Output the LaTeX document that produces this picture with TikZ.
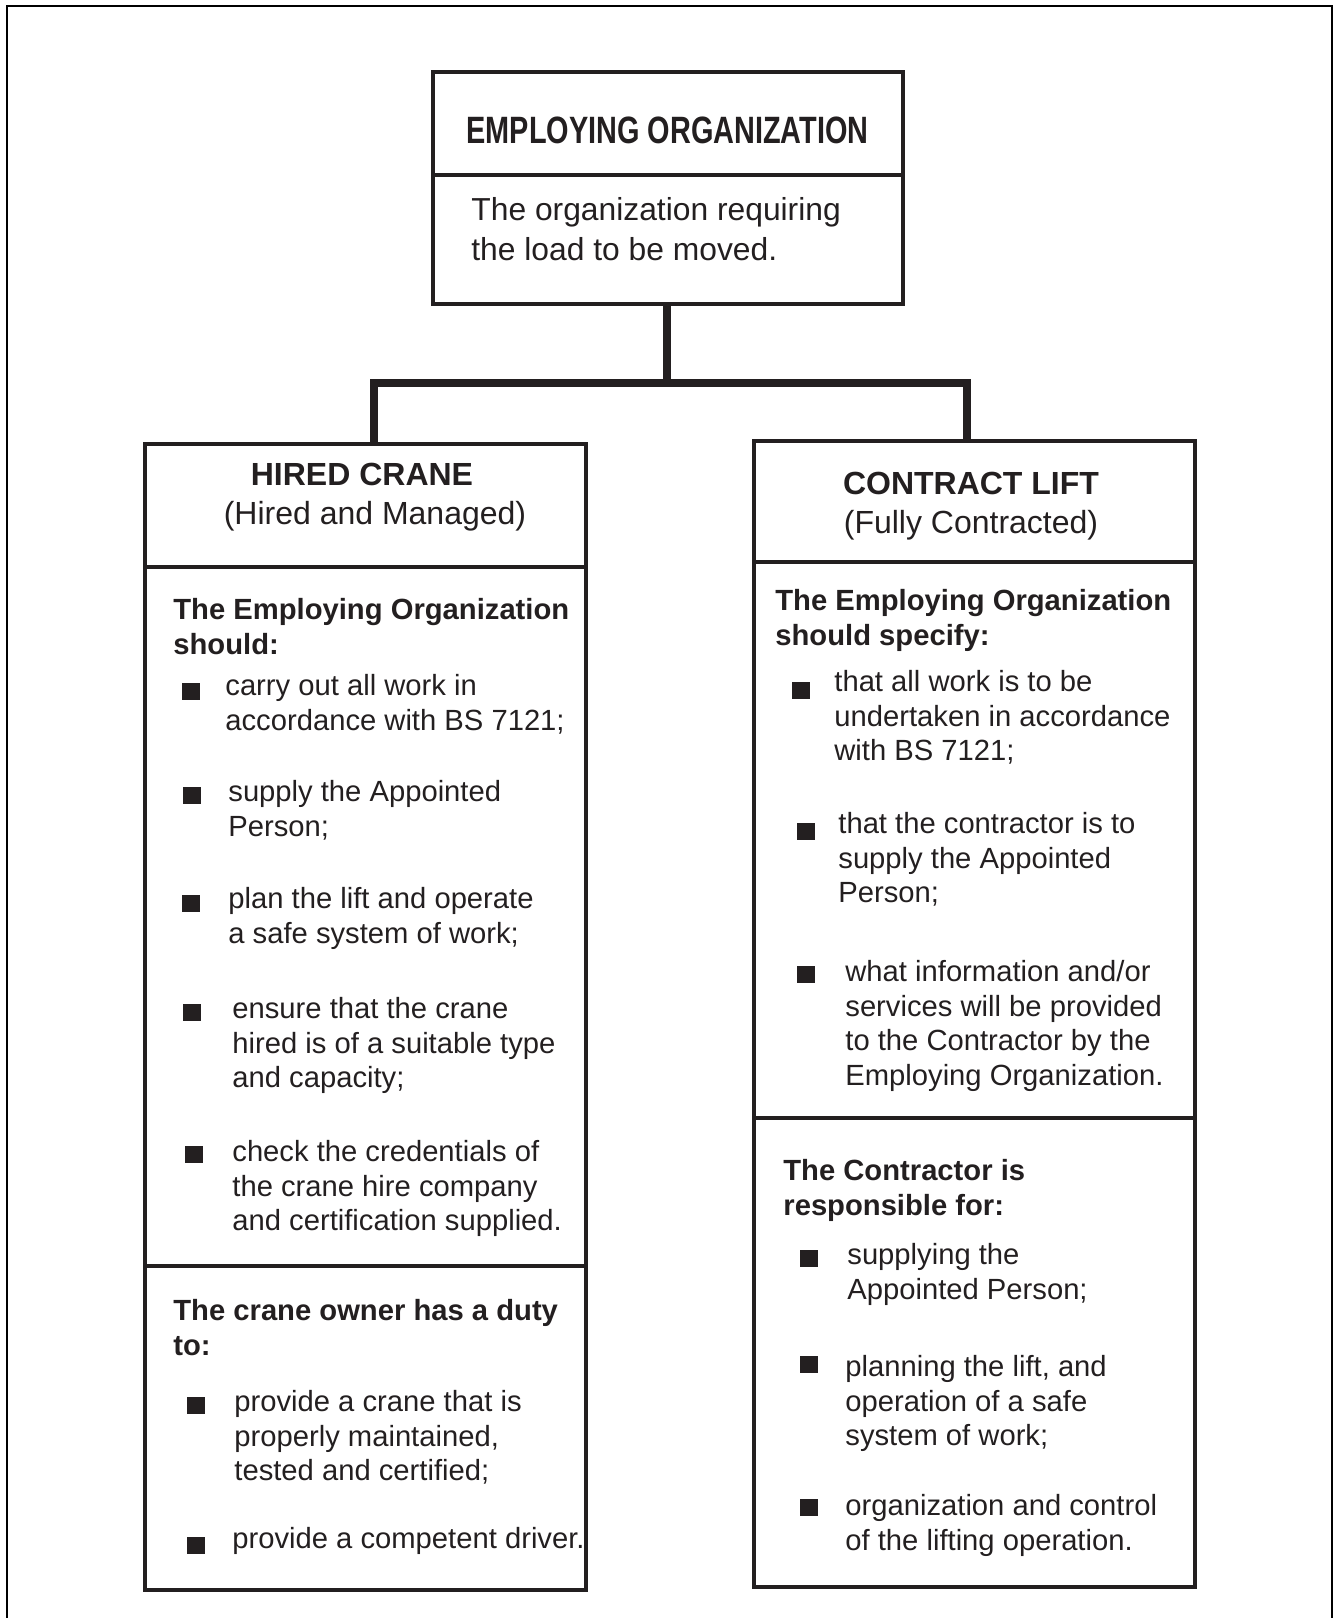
\documentclass[tikz,border=0pt]{standalone}
\usepackage{fontspec}
\setmainfont{Liberation Sans}
\usepackage{graphicx}
\definecolor{ink}{HTML}{231F20}
\begin{document}
\begin{tikzpicture}[x=0.5pt,y=-0.5pt,
  box/.style={draw=ink, line width=1.75pt, rectangle, inner sep=0pt},
  divline/.style={draw=ink, line width=1.7pt},
  conn/.style={draw=ink, line width=3.65pt},
  frameline/.style={draw=black, line width=1pt},
  body/.style={anchor=north west, inner sep=0pt, align=left, text=ink, font=\fontsize{14.6pt}{17.3pt}\selectfont, yshift=7pt},
  bodyb/.style={body, font=\fontsize{14.6pt}{17.3pt}\selectfont\bfseries},
  topbody/.style={anchor=north west, inner sep=0pt, align=left, text=ink, font=\fontsize{15.9pt}{19.6pt}\selectfont, yshift=8pt},
  head/.style={anchor=center, inner sep=0pt, text=ink, font=\fontsize{16pt}{19pt}\selectfont},
  headb/.style={head, font=\fontsize{16pt}{19pt}\selectfont\bfseries},
  bul/.style={fill=ink, minimum width=9pt, minimum height=8.5pt, inner sep=0pt}]
\useasboundingbox (0,0) rectangle (1334,1618);
\draw[frameline] (7,1618) -- (7,6) -- (1332,6) -- (1332,1618);

% boxes
\node[box, minimum width=235pt, minimum height=116pt] (emp) at (668,188) {};
\node[box, minimum width=220.5pt, minimum height=573pt] (hired) at (365.5,1017) {};
\node[box, minimum width=220.5pt, minimum height=573pt] (contract) at (974.5,1014) {};

% dividers
\draw[divline] (emp.west |- 0,175) -- (emp.east |- 0,175);
\draw[divline] (hired.west |- 0,567) -- (hired.east |- 0,567);
\draw[divline] (hired.west |- 0,1266) -- (hired.east |- 0,1266);
\draw[divline] (contract.west |- 0,562) -- (contract.east |- 0,562);
\draw[divline] (contract.west |- 0,1118) -- (contract.east |- 0,1118);

% connectors
\coordinate (jn) at (667,383);
\draw[conn] (emp.south -| jn) -- (jn);
\draw[conn] ([xshift=4.25pt]hired.north) |- (jn) -| ([xshift=-3.75pt]contract.north);

% top box
\node[anchor=center, inner sep=0pt, text=ink] (title) at (667.5,130)
  {\resizebox{201pt}{13.3pt}{\fontsize{20pt}{24pt}\selectfont\bfseries EMPLOYING ORGANIZATION}};
\node[topbody] (empdesc) at (471,209) {\strut The organization requiring\\the load to be moved.};

% left box
\node[headb] (hc) at (362,474) {HIRED CRANE};
\node[head] (hcsub) at (375,516) {(Hired and Managed)};
\node[bodyb] (l0) at (173,609) {\strut The Employing Organization\\should:};
\node[bul] (lb1) at (191,691) {};
\node[body] (l1) at (225,685) {\strut carry out all work in\\accordance with BS 7121;};
\node[bul] (lb2) at (192,795) {};
\node[body] (l2) at (228,791) {\strut supply the Appointed\\Person;};
\node[bul] (lb3) at (191,903) {};
\node[body] (l3) at (228,898) {\strut plan the lift and operate\\a safe system of work;};
\node[bul] (lb4) at (192,1012) {};
\node[body] (l4) at (232,1008) {\strut ensure that the crane\\hired is of a suitable type\\and capacity;};
\node[bul] (lb5) at (194,1154) {};
\node[body] (l5) at (232,1151) {\strut check the credentials of\\the crane hire company\\and certification supplied.};
\node[bodyb] (l6h) at (173,1310) {\strut The crane owner has a duty\\to:};
\node[bul] (lb6) at (196,1405) {};
\node[body] (l6) at (234,1401) {\strut provide a crane that is\\properly maintained,\\tested and certified;};
\node[bul] (lb7) at (196,1545) {};
\node[body] (l7) at (232,1538) {\strut provide a competent driver.};

% right box
\node[headb] (cl) at (971,483) {CONTRACT LIFT};
\node[head] (clsub) at (971,525) {(Fully Contracted)};
\node[bodyb] (r0) at (775,600) {\strut The Employing Organization\\should specify:};
\node[bul] (rb1) at (801,690) {};
\node[body] (r1) at (834,681) {\strut that all work is to be\\undertaken in accordance\\with BS 7121;};
\node[bul] (rb2) at (806,831) {};
\node[body] (r2) at (838,823) {\strut that the contractor is to\\supply the Appointed\\Person;};
\node[bul] (rb3) at (806,974) {};
\node[body] (r3) at (845,971) {\strut what information and/or\\services will be provided\\to the Contractor by the\\Employing Organization.};
\node[bodyb] (r4h) at (783,1170) {\strut The Contractor is\\responsible for:};
\node[bul] (rb4) at (809,1258) {};
\node[body] (r4) at (847,1254) {\strut supplying the\\Appointed Person;};
\node[bul] (rb5) at (809,1364) {};
\node[body] (r5) at (845,1366) {\strut planning the lift, and\\operation of a safe\\system of work;};
\node[bul] (rb6) at (809,1507) {};
\node[body] (r6) at (845,1505) {\strut organization and control\\of the lifting operation.};
\end{tikzpicture}
\end{document}
